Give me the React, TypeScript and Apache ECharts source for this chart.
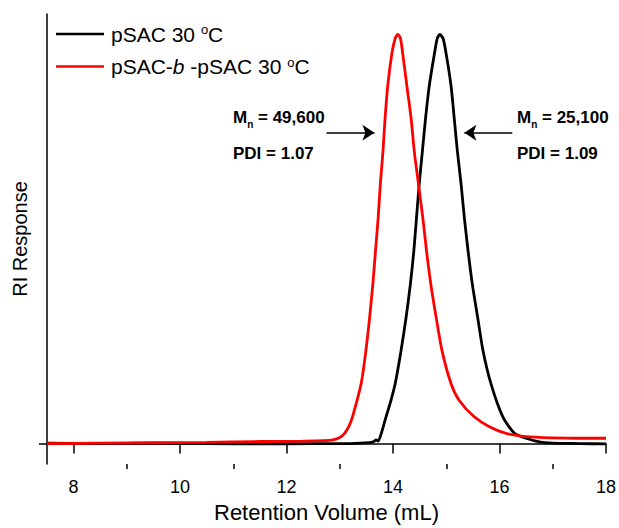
import React, { useEffect, useRef } from "react";
import * as echarts from "echarts";

const FONT = "'Liberation Sans', Arial, Helvetica, sans-serif";

const blackX = [7.5, 8.5, 9.5, 10.5, 11.5, 12.5, 13.2, 13.55, 13.64, 13.68, 13.72, 13.78, 13.87, 13.96, 14.04, 14.15, 14.245, 14.325, 14.39, 14.44, 14.49, 14.55, 14.61, 14.68, 14.78, 14.83, 14.88, 14.94, 14.995, 15.09, 15.15, 15.21, 15.28, 15.34, 15.41, 15.49, 15.59, 15.69, 15.84, 16.06, 16.28, 16.5, 16.75, 17.0, 17.5, 18];
const blackY = [0.001, 0.0, 0.001, 0.0, -0.001, 0.0, 0.0, 0.002, 0.005, 0.009, 0.006, 0.025, 0.066, 0.105, 0.146, 0.227, 0.308, 0.389, 0.47, 0.551, 0.632, 0.713, 0.794, 0.874, 0.955, 0.99, 1.0, 0.99, 0.955, 0.874, 0.794, 0.713, 0.632, 0.551, 0.47, 0.389, 0.308, 0.227, 0.146, 0.066, 0.025, 0.013, 0.004, 0.001, 0.0, -0.001];

const redX = [7.5, 8.5, 9.5, 10.5, 11.5, 12.3, 12.7, 12.87, 13.0, 13.09, 13.17, 13.24, 13.4, 13.49, 13.56, 13.62, 13.67, 13.72, 13.76, 13.81, 13.85, 13.9, 13.98, 14.04, 14.09, 14.14, 14.18, 14.26, 14.34, 14.4, 14.48, 14.56, 14.63, 14.71, 14.81, 14.92, 15.09, 15.24, 15.52, 15.81, 16.12, 16.5, 17.0, 17.5, 18];
const redY = [0.0, 0.001, 0.002, 0.003, 0.005, 0.006, 0.007, 0.009, 0.015, 0.025, 0.042, 0.066, 0.146, 0.227, 0.308, 0.389, 0.47, 0.551, 0.632, 0.713, 0.794, 0.874, 0.955, 0.99, 1.0, 0.99, 0.955, 0.874, 0.794, 0.713, 0.632, 0.551, 0.47, 0.389, 0.308, 0.227, 0.146, 0.106, 0.066, 0.041, 0.025, 0.017, 0.014, 0.013, 0.013];

const seriesNames = ["pSAC 30 oC", "pSAC-b-pSAC 30 oC"];
const majorTicks = [8, 10, 12, 14, 16, 18];
const minorTicks = [9, 11, 13, 15, 17];

// arrows: [x start, x end, y]
const leftArrow = [12.75, 13.65, 0.76];
const rightArrow = [16.24, 15.34, 0.76];

const leftLabel = { mn: "49,600", pdi: "1.07" };
const rightLabel = { mn: "25,100", pdi: "1.09" };

const zip = (xs: number[], ys: number[]) => xs.map((x, i) => [x, ys[i]]);

export default function App() {
  const ref = useRef<HTMLDivElement>(null);
  useEffect(() => {
    if (!ref.current) return;
    const chart = echarts.init(ref.current, null, { renderer: "svg" });
    const axisLineStyle = { color: "#000", width: 1.5 };
    const richLegend = {
      t: { fontSize: 21, fontFamily: FONT, color: "#000", lineHeight: 22 },
      i: { fontSize: 21, fontFamily: FONT, color: "#000", fontStyle: "italic", lineHeight: 22 },
      s: { fontSize: 13, fontFamily: FONT, color: "#000", verticalAlign: "top", lineHeight: 22 },
    };
    const annoRich = {
      m: { fontSize: 17, fontWeight: "bold", fontFamily: FONT, fill: "#000", lineHeight: 18 },
      n: { fontSize: 10, fontWeight: "bold", fontFamily: FONT, fill: "#000", verticalAlign: "bottom", lineHeight: 24 },
    };
    const mkAnno = (left: number, vals: { mn: string; pdi: string }) => [
      {
        type: "text",
        left,
        top: 109,
        style: { text: `{m|M}{n|n}{m| = ${vals.mn}}`, rich: annoRich },
      },
      {
        type: "text",
        left,
        top: 145,
        style: { text: `{m|PDI = ${vals.pdi}}`, rich: annoRich },
      },
    ];
    chart.setOption({
      animation: false,
      backgroundColor: "#fff",
      grid: { left: 47, right: 12, top: 14, bottom: 60, containLabel: false },
      legend: {
        orient: "vertical",
        left: 56,
        top: 23,
        padding: 0,
        icon: "rect",
        itemWidth: 48,
        itemHeight: 2.5,
        itemGap: 11,
        data: seriesNames,
        formatter: (name: string) =>
          name === seriesNames[0]
            ? "{t|pSAC 30 }{s|o}{t|C}"
            : "{t|pSAC-}{i|b}{t| -pSAC 30 }{s|o}{t|C}",
        textStyle: { rich: richLegend, padding: [0, 0, 0, 2] },
      },
      xAxis: [
        {
          type: "value",
          min: 7.5,
          max: 18,
          position: "bottom",
          axisLine: { show: true, lineStyle: axisLineStyle },
          axisTick: { show: true, inside: false, length: 10, customValues: majorTicks, lineStyle: axisLineStyle },
          axisLabel: { customValues: majorTicks, fontSize: 18, color: "#000", margin: 14, fontFamily: FONT },
          splitLine: { show: false },
          name: "Retention Volume (mL)",
          nameLocation: "middle",
          nameGap: 37,
          nameTextStyle: { fontSize: 22, color: "#000", fontFamily: FONT },
        },
        {
          type: "value",
          min: 7.5,
          max: 18,
          position: "bottom",
          axisLine: { show: false },
          axisTick: { show: true, inside: false, length: 5, customValues: minorTicks, lineStyle: axisLineStyle },
          axisLabel: { show: false },
          splitLine: { show: false },
        },
      ],
      yAxis: {
        type: "value",
        min: -0.05,
        max: 1.05,
        axisLine: { show: true, lineStyle: axisLineStyle },
        axisTick: { show: true, inside: false, length: 8, customValues: [0], lineStyle: axisLineStyle },
        axisLabel: { show: false },
        splitLine: { show: false },
        name: "RI Response",
        nameLocation: "middle",
        nameGap: 17,
        nameTextStyle: { fontSize: 20, color: "#000", fontFamily: FONT },
      },
      series: [
        {
          name: seriesNames[0],
          type: "line",
          data: zip(blackX, blackY),
          showSymbol: false,
          smooth: 0.25,
          color: "#000",
          lineStyle: { color: "#000", width: 2.8 },
        },
        {
          name: seriesNames[1],
          type: "line",
          data: zip(redX, redY),
          showSymbol: false,
          smooth: 0.25,
          color: "#ff0000",
          lineStyle: { color: "#ff0000", width: 2.8 },
          markLine: {
            silent: true,
            symbol: ["none", "arrow"],
            symbolSize: 12,
            label: { show: false },
            lineStyle: { color: "#000", width: 1.5, type: "solid" },
            emphasis: { disabled: true },
            data: [
              [{ coord: [leftArrow[0], leftArrow[2]] }, { coord: [leftArrow[1], leftArrow[2]] }],
              [{ coord: [rightArrow[0], rightArrow[2]] }, { coord: [rightArrow[1], rightArrow[2]] }],
            ],
          },
        },
      ],
      graphic: [...mkAnno(233, leftLabel), ...mkAnno(517, rightLabel)],
    });
    return () => chart.dispose();
  }, []);
  return <div ref={ref} style={{ width: 619, height: 528, position: "absolute", left: 0, top: 0 }} />;
}
